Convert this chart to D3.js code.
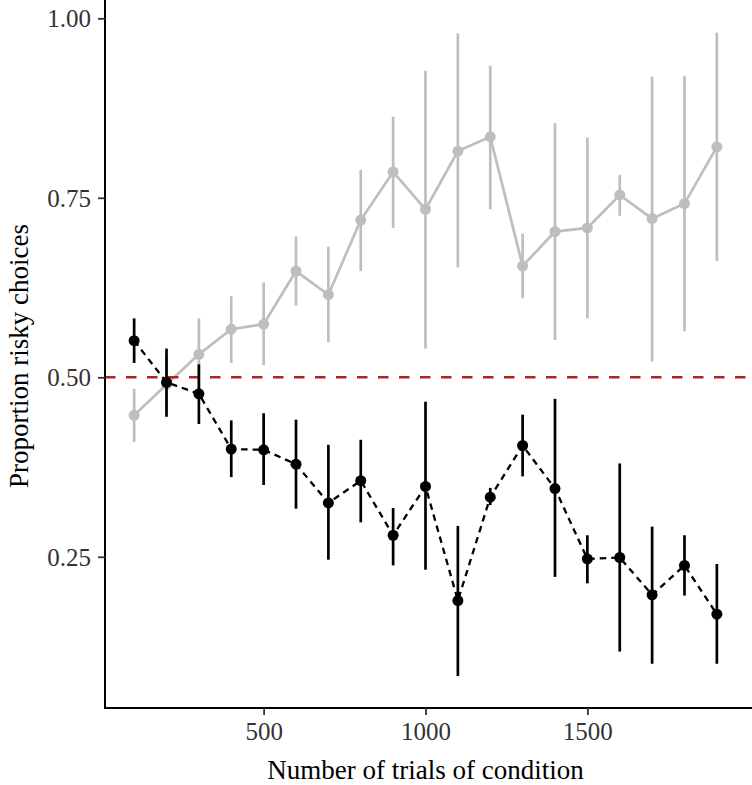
<!DOCTYPE html>
<html><head><meta charset="utf-8">
<script src="https://cdn.jsdelivr.net/npm/d3@7"></script>
<style>body{margin:0;background:#fff}</style>
</head><body><svg id="c" width="752" height="785"></svg>
<script>
const trials = [100,200,300,400,500,600,700,800,900,1000,1100,1200,1300,1400,1500,1600,1700,1800,1900];
const greyMean = [0.447,0.490,0.532,0.567,0.574,0.648,0.615,0.719,0.786,0.734,0.815,0.835,0.655,0.703,0.708,0.754,0.721,0.742,0.821];
const greyLow  = [0.410,0.450,0.483,0.520,0.517,0.600,0.549,0.648,0.708,0.540,0.653,0.734,0.610,0.552,0.582,0.725,0.522,0.564,0.662];
const greyHigh = [0.484,0.530,0.582,0.613,0.632,0.696,0.682,0.789,0.863,0.927,0.979,0.934,0.700,0.854,0.834,0.782,0.919,0.920,0.980];
const blackMean = [0.551,0.493,0.477,0.400,0.399,0.379,0.325,0.356,0.280,0.348,0.189,0.333,0.405,0.345,0.247,0.249,0.197,0.238,0.170];
const blackLow  = [0.520,0.445,0.435,0.361,0.350,0.317,0.246,0.298,0.238,0.232,0.084,0.322,0.362,0.222,0.213,0.118,0.101,0.196,0.101];
const blackHigh = [0.582,0.540,0.518,0.440,0.450,0.441,0.406,0.413,0.318,0.466,0.293,0.346,0.448,0.470,0.280,0.380,0.292,0.280,0.240];
const xTicks = [500,1000,1500];
const yTicks = [0.25,0.50,0.75,1.00];
const refLine = 0.5;

const svg = d3.select("#c");
const x = d3.scaleLinear().domain([10,1990]).range([105,746]);
const y = d3.scaleLinear().domain([0.0394,1.0255]).range([708,0]);

function series(mean, low, high, color, dash) {
  const g = svg.append("g");
  g.selectAll("line.err").data(trials).enter().append("line")
    .attr("x1", d=>x(d)).attr("x2", d=>x(d))
    .attr("y1", (d,i)=>y(low[i])).attr("y2", (d,i)=>y(high[i]))
    .attr("stroke", color).attr("stroke-width", 2.7);
  const line = d3.line().x((d,i)=>x(trials[i])).y(d=>y(d));
  g.append("path").datum(mean).attr("d", line).attr("fill","none")
    .attr("stroke", color).attr("stroke-width", dash ? 2.3 : 2.7)
    .attr("stroke-dasharray", dash || null);
  g.selectAll("circle").data(mean).enter().append("circle")
    .attr("cx", (d,i)=>x(trials[i])).attr("cy", d=>y(d)).attr("r", 5.5)
    .attr("fill", color);
}

series(greyMean, greyLow, greyHigh, "#BEBEBE", null);

svg.append("line").attr("x1", 105).attr("x2", 752)
  .attr("y1", y(refLine)).attr("y2", y(refLine))
  .attr("stroke", "#B22222").attr("stroke-width", 2.6)
  .attr("stroke-dasharray", "10.5,10.5");

series(blackMean, blackLow, blackHigh, "#000000", "6.5,5");

// axes
const fontFam = "'Liberation Serif','DejaVu Serif',serif";
const xAxis = d3.axisBottom(x).tickValues(xTicks).tickFormat(d3.format("d")).tickSizeInner(7).tickSizeOuter(0).tickPadding(5);
const yAxis = d3.axisLeft(y).tickValues(yTicks).tickFormat(d3.format(".2f")).tickSizeInner(7).tickSizeOuter(0).tickPadding(7);

const gx = svg.append("g").attr("transform","translate(0,708)").call(xAxis);
const gy = svg.append("g").attr("transform","translate(105,0)").call(yAxis);
[gx, gy].forEach(g => {
  g.select(".domain").attr("stroke","#000").attr("stroke-width",2);
  g.selectAll(".tick line").attr("stroke","#333").attr("stroke-width",1.8);
  g.selectAll(".tick text").attr("fill","#333").style("font-family", fontFam).style("font-size","25px");
});
gx.select(".domain").attr("d", "M104,0H752");
gy.select(".domain").attr("d", "M0,0V709");
gx.selectAll(".tick text").attr("dy", null).attr("y", 32);
gy.selectAll(".tick text").attr("dy", "0.34em");

svg.append("text").attr("x", (105+746)/2).attr("y", 779).attr("text-anchor","middle")
  .style("font-family", fontFam).style("font-size","27px").attr("fill","#000")
  .text("Number of trials of condition");
svg.append("text").attr("transform","translate(28,356) rotate(-90)").attr("text-anchor","middle")
  .style("font-family", fontFam).style("font-size","27px").attr("fill","#000")
  .text("Proportion risky choices");
</script></body></html>
